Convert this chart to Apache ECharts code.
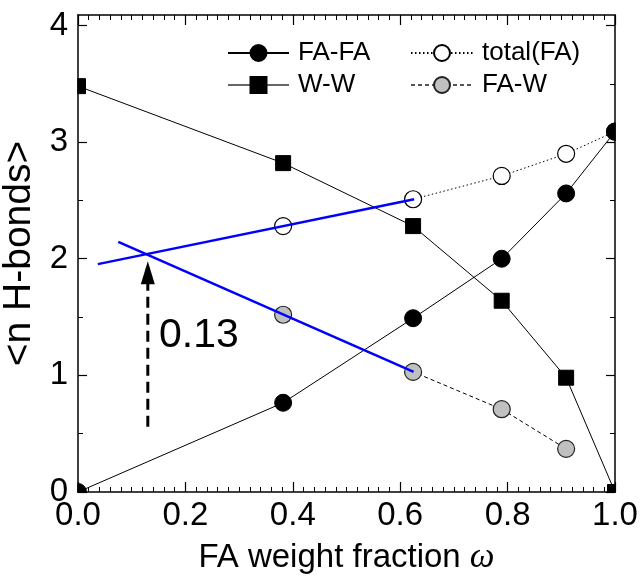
<!DOCTYPE html>
<html><head><meta charset="utf-8">
<script src="https://cdn.jsdelivr.net/npm/echarts@6/dist/echarts.min.js"></script>
<style>html,body{margin:0;padding:0;background:#fff}#c{width:642px;height:580px}</style>
</head><body><div id="c"></div>
<script>
// ---- data ----
const xFAFA = [0, 0.382, 0.624, 0.789, 0.909, 1.0];
const faFA  = [0, 0.765, 1.49, 2.0, 2.56, 3.09];
const xWW   = [0, 0.382, 0.624, 0.789, 0.909, 1.0];
const wW    = [3.48, 2.82, 2.28, 1.64, 0.98, 0];
const xTotal = [0.382, 0.624, 0.789, 0.909, 1.0];
const totalFA = [2.28, 2.51, 2.71, 2.90, 3.09];
const xFAW = [0.382, 0.624, 0.789, 0.909];
const faW  = [1.52, 1.03, 0.71, 0.37];
const fitUpperX = [0.037, 0.626];
const fitUpperY = [1.954, 2.51];
const fitLowerX = [0.075, 0.625];
const fitLowerY = [2.145, 1.03];
const arrowX = [0.13, 0.13];
const arrowY = [0.56, 1.88];
const arrowText = '0.13';
const yMajor = [0, 1, 2, 3, 4];
const yMinor = [0.5, 1.5, 2.5, 3.5];
const yTickLabels = ['0', '1', '2', '3', '4'];
const seriesNames = ['FA-FA', 'W-W', 'total(FA)', 'FA-W'];

const zip = (xs, ys) => xs.map((x, i) => [x, ys[i]]);
const FF = 'Liberation Sans, Arial, sans-serif';
const black = '#000';
const AXZ = 6;

const chart = echarts.init(document.getElementById('c'), null, {renderer: 'canvas'});

const xBase = {
  type: 'value', min: 0, max: 1, interval: 0.2, z: AXZ,
  axisLine: {show: true, onZero: false, lineStyle: {color: black, width: 1.5}},
  axisTick: {show: true, inside: true, length: 10, lineStyle: {color: black, width: 1.2}},
  minorTick: {show: true, splitNumber: 10, length: 5, lineStyle: {color: black, width: 1}},
  splitLine: {show: false}, minorSplitLine: {show: false}
};
const yBase = {
  type: 'value', min: 0, max: 4.09, z: AXZ,
  axisLine: {show: false, onZero: false, lineStyle: {color: black, width: 1.5}},
  splitLine: {show: false}
};

const legendText = {fontSize: 26, fontFamily: FF, color: black, padding: [0, 0, 0, 4]};

const option = {
  animation: false,
  backgroundColor: '#fff',
  grid: {left: 78, right: 27, top: 15, bottom: 88, containLabel: false, outerBoundsMode: 'none'},
  xAxis: [
    Object.assign({}, xBase, {
      position: 'bottom',
      axisLabel: {show: true, formatter: v => v.toFixed(1), fontSize: 33, fontFamily: FF, color: black, margin: 7},
      name: 'FA weight fraction {w|ω}', nameLocation: 'middle', nameGap: 48,
      nameTextStyle: {fontSize: 33, fontFamily: FF, color: black,
        rich: {w: {fontSize: 35, fontFamily: 'Liberation Serif, serif', fontStyle: 'italic', color: black}}}
    }),
    Object.assign({}, xBase, {position: 'top', axisLabel: {show: false}})
  ],
  yAxis: [
    Object.assign({}, yBase, {
      position: 'left',
      axisLine: {show: true, onZero: false, lineStyle: {color: black, width: 1.5}},
      axisTick: {show: true, inside: true, length: 9, customValues: yMajor, lineStyle: {color: black, width: 1.2}},
      axisLabel: {show: true, customValues: yMajor, formatter: v => yTickLabels[yMajor.indexOf(v)] ?? '',
        fontSize: 33, fontFamily: FF, color: black, margin: 10},
      name: '<n H-bonds>', nameLocation: 'middle', nameGap: 32,
      nameTextStyle: {fontSize: 39, fontFamily: FF, color: black}
    }),
    Object.assign({}, yBase, {
      position: 'left',
      axisTick: {show: true, inside: true, length: 5, customValues: yMinor, lineStyle: {color: black, width: 1}},
      axisLabel: {show: false}
    }),
    Object.assign({}, yBase, {
      position: 'right',
      axisLine: {show: true, onZero: false, lineStyle: {color: black, width: 1.5}},
      axisTick: {show: true, inside: true, length: 9, customValues: yMajor, lineStyle: {color: black, width: 1.2}},
      axisLabel: {show: false}
    }),
    Object.assign({}, yBase, {
      position: 'right',
      axisTick: {show: true, inside: true, length: 5, customValues: yMinor, lineStyle: {color: black, width: 1}},
      axisLabel: {show: false}
    })
  ],
  legend: [
    {data: [{name: seriesNames[0]}, {name: seriesNames[1], lineStyle: {color: '#666'}}],
     orient: 'vertical', left: 222, top: 35, padding: 5,
     itemWidth: 61, itemHeight: 20, itemGap: 6, textStyle: legendText},
    {data: [{name: seriesNames[2]}, {name: seriesNames[3], lineStyle: {color: '#555'}}],
     orient: 'vertical', left: 405, top: 35, padding: 5,
     itemWidth: 62, itemHeight: 20, itemGap: 6, textStyle: legendText}
  ],
  series: [
    {name: seriesNames[2], type: 'line', data: zip(xTotal, totalFA), symbol: 'circle', symbolSize: 17,
     itemStyle: {color: '#fff', borderColor: black, borderWidth: 1.2},
     lineStyle: {color: black, width: 1, type: [1.5, 2.5]}, z: 3},
    {name: seriesNames[3], type: 'line', data: zip(xFAW, faW), symbol: 'circle', symbolSize: 17,
     itemStyle: {color: '#c0c0c0', borderColor: '#222', borderWidth: 1.2},
     lineStyle: {color: black, width: 1, type: [4, 3]}, z: 3},
    {name: seriesNames[0], type: 'line', data: zip(xFAFA, faFA), symbol: 'circle', symbolSize: 17,
     itemStyle: {color: black, borderColor: black, borderWidth: 1},
     lineStyle: {color: black, width: 1}, z: 3},
    {name: seriesNames[1], type: 'line', data: zip(xWW, wW), symbol: 'rect', symbolSize: 15,
     itemStyle: {color: black, borderColor: black, borderWidth: 1},
     lineStyle: {color: black, width: 1}, z: 3},
    {name: 'fit1', type: 'line', data: zip(fitUpperX, fitUpperY), showSymbol: false, symbol: 'none',
     lineStyle: {color: '#0000ff', width: 2.5}, z: 4, silent: true},
    {name: 'fit2', type: 'line', data: zip(fitLowerX, fitLowerY), showSymbol: false, symbol: 'none',
     lineStyle: {color: '#0000ff', width: 2.5}, z: 4, silent: true},
    {name: 'arrow', type: 'line', data: zip(arrowX, arrowY),
     symbol: (v, p) => p.dataIndex === 1 ? 'triangle' : 'none', symbolSize: [14, 23], showSymbol: true,
     itemStyle: {color: black}, lineStyle: {color: black, width: 3, type: [11, 6]}, z: 4, silent: true}
  ]
};
chart.setOption(option);

// mask marker overflow outside the plotting frame (like the clipped markers in the original)
const p0 = chart.convertToPixel({xAxisIndex: 0, yAxisIndex: 0}, [0, 0]);
const p1 = chart.convertToPixel({xAxisIndex: 0, yAxisIndex: 0}, [1, 4.09]);
const L = p0[0] - 0.75, R = p1[0] + 0.75, T = p1[1] - 0.75, B = p0[1] + 0.75;
const W = 642, H = 580, mz = 5;
chart.setOption({
  graphic: [
    {type: 'rect', silent: true, z: mz, shape: {x: 0, y: 0, width: L, height: H}, style: {fill: '#fff'}},
    {type: 'rect', silent: true, z: mz, shape: {x: R, y: 0, width: W - R, height: H}, style: {fill: '#fff'}},
    {type: 'rect', silent: true, z: mz, shape: {x: 0, y: 0, width: W, height: T}, style: {fill: '#fff'}},
    {type: 'rect', silent: true, z: mz, shape: {x: 0, y: B, width: W, height: H - B}, style: {fill: '#fff'}},
    {type: 'text', x: 159, y: 336, z: 10,
     style: {text: arrowText, fontSize: 41, fontFamily: FF, fill: black, verticalAlign: 'middle'}}
  ]
});
</script>
</body></html>
